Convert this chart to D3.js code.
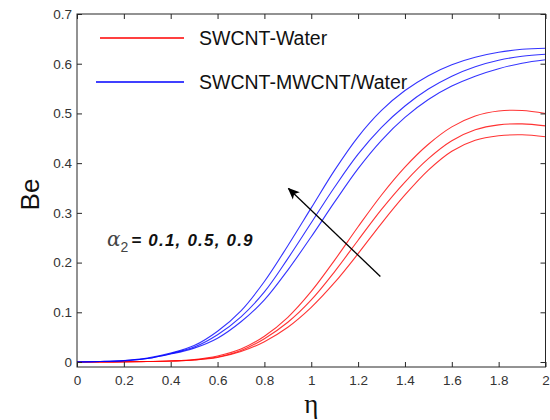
<!DOCTYPE html>
<html>
<head>
<meta charset="utf-8">
<script src="https://cdn.jsdelivr.net/npm/d3@7"></script>
<style>
  html, body { margin: 0; padding: 0; background: #fff; }
  svg { display: block; }
  .tick text { font-family: "Liberation Sans", Arial, sans-serif; font-size: 13.5px; fill: #333; }
</style>
</head>
<body>
<svg id="chart" width="550" height="420"></svg>
<script>
// η grid shared by every profile
const eta = [0, 0.1, 0.2, 0.3, 0.4, 0.5, 0.6, 0.7, 0.8, 0.9, 1.0,
             1.1, 1.2, 1.3, 1.4, 1.5, 1.6, 1.7, 1.8, 1.9, 2.0];

// Bejan number, SWCNT-MWCNT/Water hybrid, α2 = 0.9, 0.5, 0.1
const hybridA09 = [0, 0.001, 0.003, 0.008, 0.018, 0.033, 0.062, 0.103, 0.162, 0.234, 0.310,
                   0.386, 0.453, 0.506, 0.546, 0.576, 0.598, 0.613, 0.623, 0.629, 0.631];
const hybridA05 = [0, 0.001, 0.003, 0.007, 0.017, 0.030, 0.055, 0.091, 0.141, 0.208, 0.280,
                   0.352, 0.418, 0.472, 0.515, 0.549, 0.575, 0.594, 0.607, 0.615, 0.619];
const hybridA01 = [0, 0.001, 0.002, 0.007, 0.016, 0.028, 0.048, 0.081, 0.125, 0.185, 0.252,
                   0.322, 0.389, 0.446, 0.492, 0.528, 0.555, 0.575, 0.590, 0.601, 0.608];

// Bejan number, SWCNT-Water, α2 = 0.9, 0.5, 0.1
const monoA09 = [0, 0.0002, 0.0005, 0.001, 0.002, 0.005, 0.012, 0.026, 0.052, 0.090, 0.142,
                 0.205, 0.272, 0.336, 0.392, 0.438, 0.473, 0.495, 0.505, 0.506, 0.500];
const monoA05 = [0, 0.0002, 0.0005, 0.001, 0.002, 0.004, 0.010, 0.023, 0.047, 0.080, 0.125,
                 0.182, 0.245, 0.307, 0.362, 0.409, 0.445, 0.467, 0.477, 0.479, 0.475];
const monoA01 = [0, 0.0002, 0.0004, 0.001, 0.002, 0.004, 0.009, 0.021, 0.041, 0.070, 0.110,
                 0.160, 0.218, 0.279, 0.336, 0.386, 0.424, 0.446, 0.455, 0.457, 0.453];

const xTicks = [0, 0.2, 0.4, 0.6, 0.8, 1, 1.2, 1.4, 1.6, 1.8, 2];
const yTicks = [0, 0.1, 0.2, 0.3, 0.4, 0.5, 0.6, 0.7];

const legendLabels = ["SWCNT-Water", "SWCNT-MWCNT/Water"];
const alphaValues = "= 0.1, 0.5, 0.9";

// arrow from the α2 note: tail and head in (η, Be)
const arrowTail = [1.295, 0.172];
const arrowHead = [0.903, 0.349];
const notePos = [0.128, 0.233];

const series = [
  { values: monoA09, color: "#ff0000" },
  { values: monoA05, color: "#ff0000" },
  { values: monoA01, color: "#ff0000" },
  { values: hybridA09, color: "#0000ff" },
  { values: hybridA05, color: "#0000ff" },
  { values: hybridA01, color: "#0000ff" }
];

const plot = { left: 77, right: 545.5, top: 14, bottom: 367 };

const x = d3.scaleLinear().domain([0, 2]).range([plot.left, plot.right]);
const y = d3.scaleLinear().domain([-0.01, 0.7]).range([plot.bottom, plot.top]);

const svg = d3.select("#chart");
svg.append("rect").attr("width", 550).attr("height", 420).attr("fill", "#fff");

const axisColor = "#262626";

// curves
const line = d3.line()
  .x((d, i) => x(eta[i]))
  .y(d => y(d))
  .curve(d3.curveCatmullRom.alpha(0.5));

svg.append("g").selectAll("path")
  .data(series)
  .join("path")
  .attr("d", d => line(d.values))
  .attr("fill", "none")
  .attr("stroke", d => d.color)
  .attr("stroke-width", 1.1)
  .attr("stroke-opacity", 0.8);

// axes: ticks point inward on all four sides
const bottomAxis = d3.axisBottom(x).tickValues(xTicks).tickSize(-5).tickPadding(8)
  .tickFormat(d3.format("~g"));
const topAxis = d3.axisTop(x).tickValues(xTicks).tickSize(-5).tickFormat("");
const leftAxis = d3.axisLeft(y).tickValues(yTicks).tickSize(-5).tickPadding(5)
  .tickFormat(d3.format("~g"));
const rightAxis = d3.axisRight(y).tickValues(yTicks).tickSize(-5).tickFormat("");

function styleAxis(g) {
  g.select(".domain").remove();
  g.selectAll(".tick line").attr("stroke", axisColor).attr("stroke-width", 1);
}

svg.append("g").attr("transform", `translate(0,${plot.bottom})`).call(bottomAxis).call(styleAxis);
svg.append("g").attr("transform", `translate(0,${plot.top})`).call(topAxis).call(styleAxis);
svg.append("g").attr("transform", `translate(${plot.left},0)`).call(leftAxis).call(styleAxis);
svg.append("g").attr("transform", `translate(${plot.right},0)`).call(rightAxis).call(styleAxis);

svg.append("rect")
  .attr("x", plot.left).attr("y", plot.top)
  .attr("width", plot.right - plot.left).attr("height", plot.bottom - plot.top)
  .attr("fill", "none").attr("stroke", axisColor).attr("stroke-width", 1);

// axis titles
svg.append("text")
  .attr("transform", `translate(39,${(plot.top + plot.bottom) / 2 + 4}) rotate(-90)`)
  .attr("text-anchor", "middle")
  .attr("font-family", "Liberation Sans, Arial, sans-serif")
  .attr("font-size", 26)
  .attr("fill", "#111")
  .text("Be");

svg.append("text")
  .attr("x", (plot.left + plot.right) / 2)
  .attr("y", 413)
  .attr("text-anchor", "middle")
  .attr("font-family", "Liberation Serif, Times New Roman, serif")
  .attr("font-size", 27)
  .attr("fill", "#111")
  .text("η");

// legend
const legendRows = [
  { label: legendLabels[0], color: "#ff0000", x0: 100, y: 38 },
  { label: legendLabels[1], color: "#0000ff", x0: 96, y: 82 }
];
const legend = svg.append("g");
legend.selectAll("line")
  .data(legendRows)
  .join("line")
  .attr("x1", d => d.x0).attr("x2", 184)
  .attr("y1", d => d.y).attr("y2", d => d.y)
  .attr("stroke", d => d.color)
  .attr("stroke-width", 1.6);
legend.selectAll("text")
  .data(legendRows)
  .join("text")
  .attr("x", 199)
  .attr("y", d => d.y + 7)
  .attr("font-family", "Liberation Sans, Arial, sans-serif")
  .attr("font-size", 19.5)
  .attr("fill", "#111")
  .text(d => d.label);

// α2 note
const note = svg.append("text")
  .attr("x", x(notePos[0]))
  .attr("y", y(notePos[1]))
  .attr("font-family", "Liberation Sans, Arial, sans-serif")
  .attr("fill", "#111");
note.append("tspan")
  .attr("font-family", "DejaVu Serif, serif")
  .attr("font-style", "italic")
  .attr("font-size", 20)
  .attr("fill", "#444")
  .text("α");
note.append("tspan")
  .attr("font-size", 14)
  .attr("dy", 6)
  .attr("fill", "#444")
  .text("2");
note.append("tspan")
  .attr("dy", -6)
  .attr("dx", 3)
  .attr("font-size", 17)
  .attr("font-weight", "bold")
  .attr("font-style", "italic")
  .attr("letter-spacing", 1.2)
  .text(alphaValues);

// arrow
svg.append("defs").append("marker")
  .attr("id", "head")
  .attr("viewBox", "0 0 10 10")
  .attr("refX", 9).attr("refY", 5)
  .attr("markerWidth", 12).attr("markerHeight", 12)
  .attr("markerUnits", "userSpaceOnUse")
  .attr("orient", "auto")
  .append("path")
  .attr("d", "M0,0.8 L10,5 L0,9.2 L2.5,5 Z")
  .attr("fill", "#000");

svg.append("line")
  .attr("x1", x(arrowTail[0])).attr("y1", y(arrowTail[1]))
  .attr("x2", x(arrowHead[0])).attr("y2", y(arrowHead[1]))
  .attr("stroke", "#000")
  .attr("stroke-width", 1.3)
  .attr("marker-end", "url(#head)");
</script>
</body>
</html>
